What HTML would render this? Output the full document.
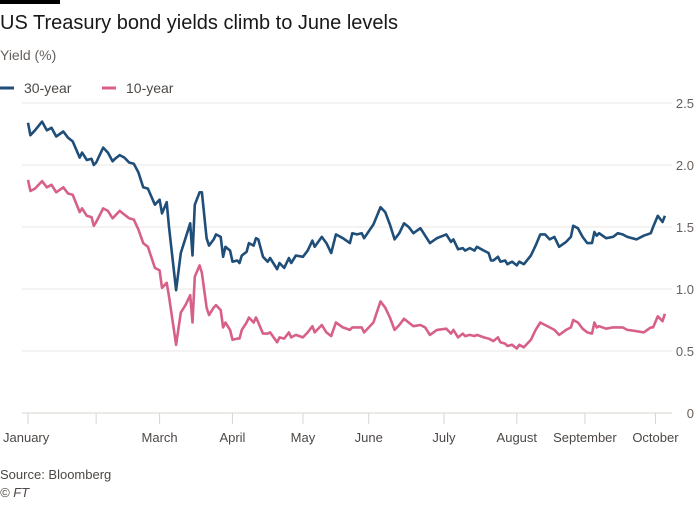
<!DOCTYPE html>
<html><head><meta charset="utf-8"><style>
body{margin:0;background:#fff;width:700px;height:500px;overflow:hidden;font-family:"Liberation Sans",sans-serif;}
</style></head><body>
<svg id="chart" width="700" height="500" xmlns="http://www.w3.org/2000/svg">
<rect x="0" y="0" width="60" height="4" fill="#000"/>
<text x="0" y="29" font-size="20" fill="#1a1817">US Treasury bond yields climb to June levels</text>
<text x="0" y="60" font-size="14" fill="#66605c">Yield (%)</text>
<g><line x1="0" y1="88" x2="14" y2="88" stroke="#1f4e79" stroke-width="3"/><text x="24" y="93" font-size="14" fill="#4d4845">30-year</text></g>
<g><line x1="102" y1="88" x2="116" y2="88" stroke="#d7608a" stroke-width="3"/><text x="126" y="93" font-size="14" fill="#4d4845">10-year</text></g>
<g id="grid"></g><g id="xaxis"></g><g id="series"></g>
<text x="0" y="479" font-size="13" fill="#4d4845">Source: Bloomberg</text>
<text x="0" y="497" font-size="13" font-style="italic" fill="#4d4845">© FT</text>
</svg>
<script>
const days=[0,1,3,6,8,10,12,15,17,19,22,23,25,27,28,29,32,34,36,37,39,41,43,45,47,49,51,54,56,57,59,60,63,65,67,69,70,71,73,74,76,77,79,80,82,83,84,86,87,89,90,91,93,94,96,97,98,100,102,103,106,107,109,111,112,114,117,119,121,122,125,127,129,131,134,137,138,140,142,143,147,150,152,154,156,158,160,162,164,167,169,171,174,178,180,181,183,185,186,188,190,191,194,196,197,198,200,201,203,204,206,208,209,211,214,216,218,220,222,224,226,229,231,232,234,236,238,240,241,242,243,246,249,251,253,255,259,262,265,266,268,270,271];
const yield30=[2.34,2.24,2.28,2.35,2.28,2.30,2.23,2.27,2.22,2.19,2.06,2.10,2.04,2.05,2.00,2.02,2.14,2.10,2.03,2.05,2.08,2.06,2.02,2.01,1.94,1.82,1.81,1.68,1.72,1.61,1.70,1.50,0.99,1.29,1.41,1.53,1.27,1.68,1.78,1.78,1.41,1.35,1.40,1.44,1.42,1.26,1.34,1.31,1.22,1.23,1.21,1.27,1.30,1.37,1.35,1.41,1.40,1.26,1.22,1.25,1.16,1.21,1.17,1.25,1.21,1.27,1.26,1.31,1.39,1.34,1.42,1.37,1.29,1.44,1.41,1.37,1.45,1.44,1.45,1.41,1.52,1.66,1.62,1.52,1.40,1.45,1.53,1.50,1.45,1.49,1.43,1.37,1.41,1.44,1.38,1.40,1.32,1.33,1.31,1.33,1.31,1.34,1.31,1.29,1.23,1.23,1.26,1.22,1.23,1.20,1.22,1.19,1.22,1.20,1.27,1.35,1.44,1.44,1.40,1.42,1.34,1.38,1.42,1.51,1.49,1.42,1.37,1.37,1.46,1.43,1.45,1.41,1.42,1.45,1.44,1.42,1.40,1.43,1.45,1.50,1.59,1.54,1.59];
const yield10=[1.88,1.79,1.81,1.87,1.82,1.84,1.78,1.82,1.77,1.76,1.62,1.65,1.59,1.58,1.51,1.54,1.65,1.63,1.57,1.59,1.63,1.60,1.57,1.56,1.48,1.37,1.34,1.17,1.15,1.01,1.05,0.94,0.55,0.81,0.87,0.95,0.73,1.10,1.19,1.13,0.85,0.79,0.85,0.87,0.83,0.69,0.73,0.67,0.59,0.60,0.60,0.67,0.73,0.77,0.73,0.77,0.73,0.64,0.64,0.65,0.57,0.61,0.60,0.65,0.61,0.63,0.61,0.65,0.70,0.65,0.71,0.65,0.62,0.73,0.69,0.67,0.69,0.69,0.69,0.65,0.73,0.90,0.85,0.77,0.67,0.71,0.76,0.73,0.70,0.71,0.69,0.63,0.67,0.68,0.64,0.67,0.61,0.64,0.62,0.63,0.62,0.63,0.61,0.60,0.59,0.58,0.61,0.57,0.56,0.54,0.55,0.52,0.55,0.53,0.59,0.67,0.73,0.71,0.69,0.67,0.63,0.67,0.69,0.75,0.73,0.68,0.65,0.64,0.73,0.69,0.70,0.68,0.69,0.69,0.69,0.67,0.66,0.65,0.69,0.69,0.78,0.74,0.80];
const yTicks=[0,0.5,1.0,1.5,2.0,2.5];
const yTickLabels=["0","0.5","1.0","1.5","2.0","2.5"];
const monthDays=[0,29,56,87,117,145,177,208,237,267];
const monthLabels=["January","","March","April","May","June","July","August","September","October"];

const NS="http://www.w3.org/2000/svg";
const X=d=>28+d*2.35;
const Y=v=>413-v*124;
function mk(tag,attrs,parent){const e=document.createElementNS(NS,tag);for(const k in attrs)e.setAttribute(k,attrs[k]);parent.appendChild(e);return e;}
const grid=document.getElementById('grid');
yTicks.forEach((t,i)=>{
  const l=mk('line',{x1:22,x2:672,y1:Y(t),y2:Y(t),stroke:t===0?'#d9d4cf':'#ebe7e3','stroke-width':1},grid);
  
  
  const tx=mk('text',{x:694,y:Y(t)+5,'font-size':13,fill:'#66605c','text-anchor':'end'},grid);
  tx.textContent=yTickLabels[i];
  
  
});
const xa=document.getElementById('xaxis');
monthDays.forEach((d,i)=>{
  const tk=mk('line',{x1:X(d),x2:X(d),y1:413,y2:424,stroke:'#d9d4cf'},xa);
  
  
  if(monthLabels[i]){
    const t=mk('text',{x:i===0?3:X(d),y:442,'font-size':13,fill:'#4d4845','text-anchor':i===0?'start':'middle'},xa);
    t.textContent=monthLabels[i];
    
    
  }
});
const sg=document.getElementById('series');
function line(vals,color,name){
  const p=mk('path',{d:vals.map((v,i)=>(i?'L':'M')+X(days[i]).toFixed(1)+','+Y(v).toFixed(1)).join(''),fill:'none',stroke:color,'stroke-width':2.6,'stroke-linejoin':'round'},sg);
  
  
}
line(yield10,'#d7608a','line-10-year');
line(yield30,'#1f4e79','line-30-year');
</script>
</body></html>
